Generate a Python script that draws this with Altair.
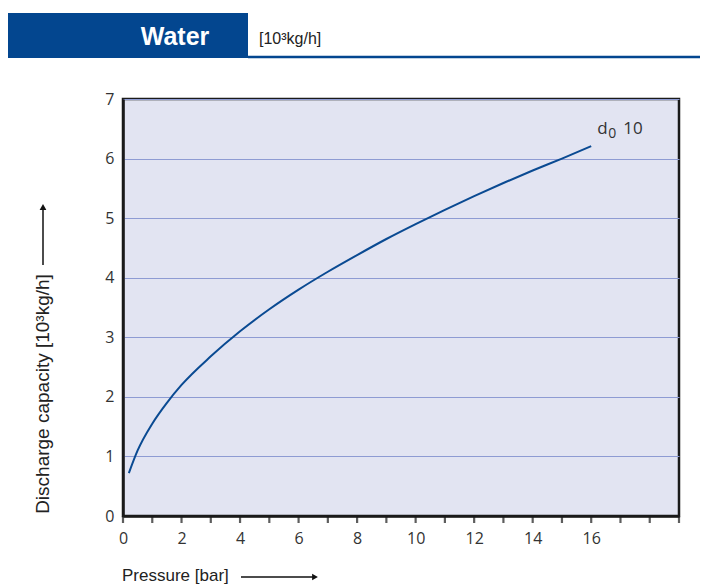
import altair as alt
import pandas as pd

# Data
pressure = [0.2, 0.5, 1, 1.5, 2, 3, 4, 5, 6, 7, 8, 9, 10, 11, 12, 13, 14, 15, 16]
capacity = [0.72, 1.1, 1.55, 1.9, 2.2, 2.68, 3.1, 3.47, 3.8, 4.1, 4.38, 4.65, 4.9, 5.14, 5.37, 5.59, 5.8, 6.0, 6.21]
x_ticks = list(range(0, 20))
x_labels = [0, 2, 4, 6, 8, 10, 12, 14, 16]
y_ticks = [0, 1, 2, 3, 4, 5, 6, 7]

df = pd.DataFrame({"p": pressure, "c": capacity})
lab = pd.DataFrame({"p": [pressure[-1]], "c": [capacity[-1]]})
ticks_df = pd.DataFrame({"p": x_ticks, "c": [0] * len(x_ticks)})

FONT = "Open Sans"
BLUE = "#0a4a92"

W, H = 556, 417

xs = alt.Scale(domain=[0, 19], nice=False)
ys = alt.Scale(domain=[0, 7], nice=False)

x_enc = alt.X("p:Q", scale=xs,
              axis=alt.Axis(values=x_labels, title=None, grid=False, format="d",
                            ticks=False, labelFlush=False, labelOverlap=False,
                            domainColor="#1a1a1a", domainWidth=2.5,
                            labelFont=FONT, labelFontSize=16, labelColor="#333333",
                            labelPadding=14))
y_enc = alt.Y("c:Q", scale=ys,
              axis=alt.Axis(values=y_ticks, title=None, grid=True, format="d",
                            gridColor="#8e9bd3", gridWidth=1.2, labelFlush=False,
                            ticks=False, domainColor="#1a1a1a", domainWidth=2.5,
                            labelFont=FONT, labelFontSize=16, labelColor="#333333",
                            labelPadding=9))

line = alt.Chart(df).mark_line(color=BLUE, strokeWidth=2, interpolate="monotone").encode(x=x_enc, y=y_enc)

tick_marks = alt.Chart(ticks_df).mark_tick(color="#1a1a1a", thickness=2.2, size=7, orient="vertical",
                                           yOffset=3.5, clip=False).encode(
    x=alt.X("p:Q", scale=xs), y=alt.Y("c:Q", scale=ys))

lab_d = alt.Chart(lab).mark_text(text="d", font=FONT, fontSize=17, color="#333333",
                                 align="left", dx=6, dy=-17).encode(x="p:Q", y="c:Q")
lab_0 = alt.Chart(lab).mark_text(text="0", font=FONT, fontSize=14, color="#333333",
                                 align="left", dx=17, dy=-12).encode(x="p:Q", y="c:Q")
lab_10 = alt.Chart(lab).mark_text(text="10", font=FONT, fontSize=17, color="#333333",
                                  align="left", dx=32, dy=-17).encode(x="p:Q", y="c:Q")

one = pd.DataFrame({"a": [0]})
base = alt.Chart(one)

# header
hdr_rect = base.mark_rect(color="#03468f").encode(
    x=alt.value(-115), x2=alt.value(125), y=alt.value(-86), y2=alt.value(-41))
hdr_line = base.mark_rule(color="#03468f", strokeWidth=2.5).encode(
    x=alt.value(125), x2=alt.value(585), y=alt.value(-42))
hdr_text = base.mark_text(text="Water", font="Liberation Sans", fontWeight="bold", fontSize=25,
                          color="white", align="center", baseline="middle").encode(
    x=alt.value(52), y=alt.value(-62))
hdr_unit = base.mark_text(text="[10³kg/h]", font="Liberation Sans", fontSize=16,
                          color="#222222", align="left", baseline="middle").encode(
    x=alt.value(136), y=alt.value(-60))

# axis titles
ytitle = base.mark_text(text="Discharge capacity [10³kg/h]", font="Liberation Sans", fontSize=19,
                        color="#222222", angle=270, align="center", baseline="middle").encode(
    x=alt.value(-80), y=alt.value(295))
yarrow = base.mark_rule(color="#111111", strokeWidth=1.5).encode(
    x=alt.value(-80), y=alt.value(108), y2=alt.value(166))
yhead = base.mark_point(shape="triangle-up", filled=True, color="#111111", size=45, opacity=1).encode(
    x=alt.value(-80), y=alt.value(108))
xtitle = base.mark_text(text="Pressure [bar]", font="Liberation Sans", fontSize=17, color="#222222",
                        align="left", baseline="middle").encode(
    x=alt.value(-1), y=alt.value(477))
xarrow = base.mark_rule(color="#111111", strokeWidth=1.5).encode(
    x=alt.value(118), x2=alt.value(190), y=alt.value(478))
xhead = base.mark_point(shape="triangle-right", filled=True, color="#111111", size=45, opacity=1).encode(
    x=alt.value(192), y=alt.value(478))

chart = alt.layer(
    line, tick_marks, lab_d, lab_0, lab_10,
    hdr_rect, hdr_line, hdr_text, hdr_unit,
    ytitle, yarrow, yhead, xtitle, xarrow, xhead,
).properties(
    width=W, height=H,
    autosize=alt.AutoSizeParams(type="none"),
    padding={"left": 115, "top": 91, "right": 21, "bottom": 80},
    background="white",
).configure_view(
    fill="#e2e4f2", stroke="#1a1a1a", strokeWidth=2.5
)

chart.save("out.html", embed_options={"renderer": "svg", "actions": False})
